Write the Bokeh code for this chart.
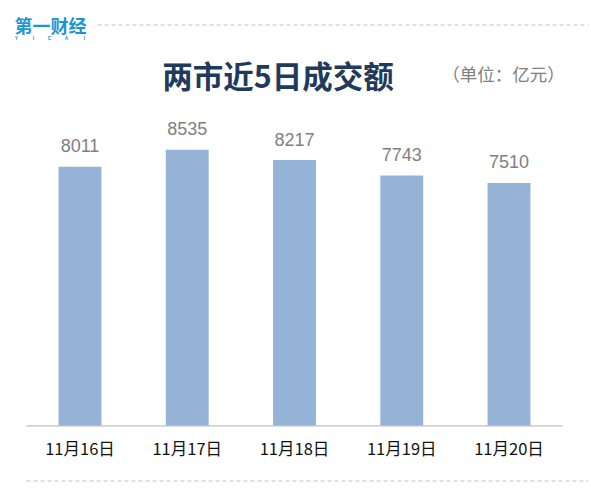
from bokeh.plotting import figure
from bokeh.models import FactorRange, Range1d, ColumnDataSource
from bokeh.core.properties import value
from bokeh.embed import file_html
from bokeh.resources import INLINE

# ---- data ----
categories = ["11月16日", "11月17日", "11月18日", "11月19日", "11月20日"]
turnover = [8011, 8535, 8217, 7743, 7510]
title_text = "两市近5日成交额"
unit_text = "（单位：亿元）"
logo_text = "第一财经"
logo_sub = ["Y", "I", "C", "A", "I"]

W, H = 591, 494
CJK = "Noto Sans CJK SC"
PAD = 0.2413          # padding (category units) on each side
FRAME_W = 588
STEP = FRAME_W / (len(categories) + 2 * PAD)
PX_PER_UNIT = 0.03234
BASE_Y = 425.3


def sx(px):
    """frame pixel -> categorical synthetic coordinate"""
    return -PAD + px / STEP


p = figure(width=W, height=H, output_backend="svg", toolbar_location=None,
           x_range=FactorRange(*categories, range_padding=PAD, range_padding_units="absolute"),
           y_range=Range1d(-(H - BASE_Y) / PX_PER_UNIT, BASE_Y / PX_PER_UNIT),
           min_border=0, min_border_left=0, min_border_right=W - FRAME_W,
           min_border_top=0, min_border_bottom=0)
p.xaxis.visible = False
p.yaxis.visible = False
p.grid.visible = False
p.outline_line_color = None
p.background_fill_color = "white"
p.border_fill_color = "white"

# pixel range for decorations (top-down)
p.extra_y_ranges = {"px": Range1d(H, 0)}

src = ColumnDataSource(dict(cat=categories, val=turnover, lab=[str(v) for v in turnover],
                            ty=[447] * len(categories)))

# bars
p.vbar(x="cat", top="val", bottom=0, width=0.40, source=src,
       fill_color="#95b3d7", line_color=None)

# value labels
p.text(x="cat", y="val", text="lab", source=src, y_offset=-21,
       text_align="center", text_baseline="middle",
       text_font=value("Liberation Sans"), text_font_size="18px", text_color="#7f7f7f")

# baseline (axis line)
p.segment(x0=[sx(26)], y0=[BASE_Y], x1=[sx(562)], y1=[BASE_Y], y_range_name="px",
          line_color="#bfbfbf", line_width=1.3)

# category labels
p.text(x="cat", y="ty", text="cat", source=src, y_range_name="px",
       text_align="center", text_baseline="middle",
       text_font=value(CJK), text_font_size="16.5px", text_color="#111111")

# title
p.text(x=[sx(277.5)], y=[74.5], text=[title_text], y_range_name="px",
       text_align="center", text_baseline="middle", text_font=value(CJK),
       text_font_style="bold", text_font_size="30.5px", text_color="#1f3a5c")

# unit
p.text(x=[sx(503)], y=[73], text=[unit_text], y_range_name="px",
       text_align="center", text_baseline="middle", text_font=value(CJK),
       text_font_size="17.5px", text_color="#808080")

# logo
p.text(x=[sx(14)], y=[24], text=[logo_text], y_range_name="px",
       text_align="left", text_baseline="middle", text_font=value(CJK),
       text_font_style="bold", text_font_size="18px", text_color="#1a96d4")
p.text(x=[sx(v) for v in (16, 33, 49, 66, 84)], y=[37] * 5, text=logo_sub, y_range_name="px",
       text_align="center", text_baseline="middle", text_font=value("Liberation Sans"),
       text_font_style="bold", text_font_size="5px", text_color="#1a96d4")

# dashed separators
p.segment(x0=[sx(97)], y0=[24.5], x1=[sx(591)], y1=[24.5], y_range_name="px",
          line_color="#c0c0c0", line_width=1, line_dash="4 3")
p.segment(x0=[sx(26)], y0=[480.5], x1=[sx(591)], y1=[480.5], y_range_name="px",
          line_color="#c0c0c0", line_width=1, line_dash="4 3")

open("out.html", "w").write(file_html(p, INLINE))
